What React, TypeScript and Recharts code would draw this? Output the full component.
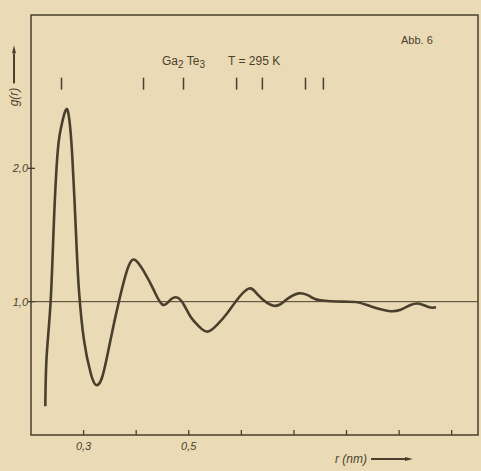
import { ComposedChart, Line, XAxis, YAxis, ReferenceLine, ReferenceArea } from "recharts"

// r in nm, g(r)
const rValues = [
  0.2272, 0.2297, 0.2373, 0.2435, 0.25, 0.2563, 0.2658, 0.272, 0.2785, 0.2861,
  0.2911, 0.3006, 0.3133, 0.3228, 0.3356, 0.3513, 0.3671, 0.3831, 0.397, 0.4146,
  0.4331, 0.4502, 0.4654, 0.4787, 0.4907, 0.5034, 0.5192, 0.5357, 0.5542, 0.5738,
  0.589, 0.6137, 0.6326, 0.6612, 0.684, 0.7091, 0.7316, 0.7506, 0.7943, 0.8209,
  0.8456, 0.8798, 0.9027, 0.9217, 0.9386, 0.9576, 0.9701
]
const gValues = [
  0.215, 0.587, 1.0, 1.593, 2.088, 2.29, 2.435, 2.39, 2.09, 1.465,
  1.09, 0.715, 0.467, 0.377, 0.437, 0.715, 1.0, 1.24, 1.315, 1.227,
  1.09, 0.977, 1.015, 1.03, 0.977, 0.887, 0.815, 0.775, 0.827, 0.917,
  1.0, 1.098, 1.047, 0.97, 1.01, 1.062, 1.037, 1.01, 1.0, 0.996,
  0.965, 0.93, 0.94, 0.975, 0.985, 0.958, 0.958
]

// interatomic distance marks above the curve
const markerR = [0.258, 0.414, 0.49, 0.591, 0.64, 0.722, 0.756]

const xTicks = [0.3, 0.4, 0.5, 0.6, 0.7, 0.8, 0.9, 1.0]
const xLabeled = [0.3, 0.5]
const yTicks = [1, 2]

const data = rValues.map((r, i) => ({ r, g: gValues[i] }))

const ink = "#4a3f2c"
const bg = "#eadbb6"
const font = "'Liberation Sans', Arial, sans-serif"

const comma = (v: number) => v.toFixed(1).replace(".", ",")

function XTick(props: any) {
  const { x, y, payload } = props
  const show = xLabeled.some(v => Math.abs(v - payload.value) < 1e-6)
  return (
    <g>
      <line x1={x} y1={y} x2={x} y2={y - 5} stroke={ink} strokeWidth={1.3} />
      {show && (
        <text x={x} y={y + 15} textAnchor="middle" fontSize={11} fontStyle="italic"
          fontFamily={font} fill={ink}>
          {comma(payload.value)}
        </text>
      )}
    </g>
  )
}

function YTick(props: any) {
  const { x, y, payload } = props
  return (
    <g>
      <line x1={x - 3} y1={y} x2={x + 4} y2={y} stroke={ink} strokeWidth={1.3} />
      <text x={x - 3} y={y + 4} textAnchor="end" fontSize={11} fontStyle="italic"
        fontFamily={font} fill={ink}>
        {comma(payload.value)}
      </text>
    </g>
  )
}

// long thin arrow like the ones in the printed figure
function Arrow({ len }: { len: number }) {
  return (
    <span style={{ display: "inline-flex", alignItems: "center", marginLeft: 4, verticalAlign: "middle" }}>
      <span style={{ display: "inline-block", width: len, height: 1.5, background: ink }} />
      <span style={{
        display: "inline-block", width: 0, height: 0,
        borderTop: "2.5px solid transparent", borderBottom: "2.5px solid transparent",
        borderLeft: `8px solid ${ink}`
      }} />
    </span>
  )
}

export default function App() {
  return (
    <div style={{ position: "absolute", left: 0, top: 0, width: 481, height: 471, background: bg, fontFamily: font, color: ink }}>

      <ComposedChart width={481} height={471} data={data}
        margin={{ top: 15, right: 3, bottom: 16, left: 0 }}>

        <XAxis dataKey="r" type="number" domain={[0.2, 1.05]} ticks={xTicks}
          axisLine={false} tickLine={false} tickSize={0} tickMargin={0}
          height={20} tick={<XTick />} interval={0} allowDataOverflow />
        <YAxis type="number" domain={[0, 3.15]} ticks={yTicks} width={31}
          axisLine={false} tickLine={false} tickSize={0} tickMargin={0}
          tick={<YTick />} allowDataOverflow />

        <ReferenceArea x1={0.2} x2={1.05} y1={0} y2={3.15} fill="none"
          stroke={ink} strokeWidth={1.5} fillOpacity={0} />
        <ReferenceLine y={1} stroke={ink} strokeWidth={1} />

        {markerR.map(r => (
          <ReferenceLine key={r} segment={[{ x: r, y: 2.59 }, { x: r, y: 2.68 }]}
            stroke={ink} strokeWidth={1.5} />
        ))}

        <Line type="natural" dataKey="g" stroke={ink} strokeWidth={2.6}
          dot={false} isAnimationActive={false} />

      </ComposedChart>

      <div style={{ position: "absolute", left: 162, top: 54, fontSize: 12, whiteSpace: "nowrap" }}>
        Ga<sub style={{ fontSize: 10 }}>2</sub> Te<sub style={{ fontSize: 10 }}>3</sub>
      </div>
      <div style={{ position: "absolute", left: 228, top: 54, fontSize: 12, whiteSpace: "nowrap" }}>
        T = 295 K
      </div>
      <div style={{ position: "absolute", left: 401, top: 34, fontSize: 11, whiteSpace: "nowrap" }}>
        Abb. 6
      </div>

      <div style={{
        position: "absolute", left: 14, top: 76, fontSize: 12, fontStyle: "italic",
        whiteSpace: "nowrap", display: "flex", alignItems: "center",
        transform: "translate(-50%, -50%) rotate(-90deg)"
      }}>
        g(r)<Arrow len={30} />
      </div>

      <div style={{
        position: "absolute", left: 335, top: 452, fontSize: 12, fontStyle: "italic",
        whiteSpace: "nowrap", display: "flex", alignItems: "center"
      }}>
        r (nm)<Arrow len={34} />
      </div>
    </div>
  )
}
